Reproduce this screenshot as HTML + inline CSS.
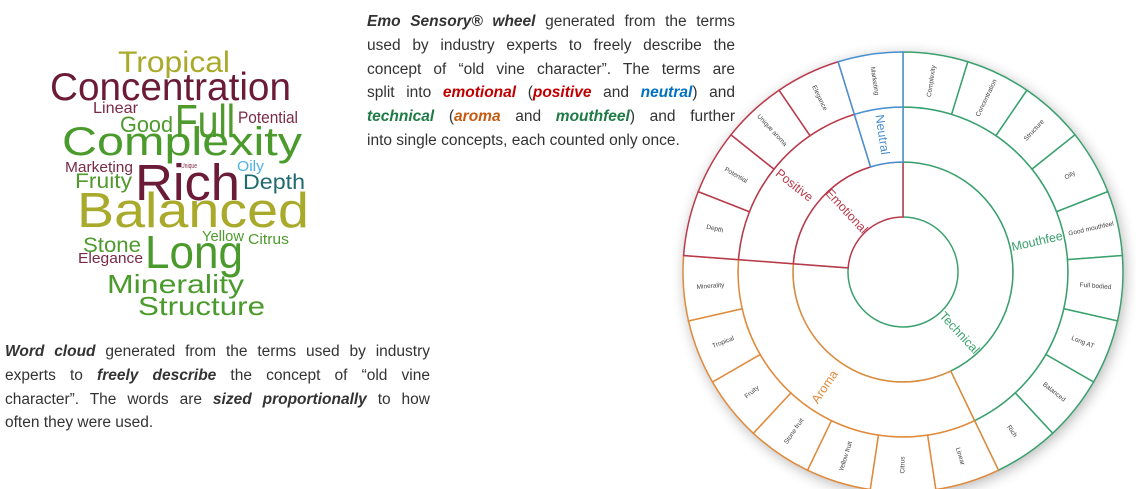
<!DOCTYPE html>
<html><head><meta charset="utf-8">
<style>
html,body{margin:0;padding:0;background:#fff;}
body{width:1136px;height:489px;position:relative;overflow:hidden;font-family:"Liberation Sans",Arial,sans-serif;}
.para{position:absolute;font-size:15.5px;line-height:23.8px;color:#333;}
.para div{text-align:justify;text-align-last:justify;white-space:nowrap;}
.para div.last{text-align-last:left;}
.bi{font-weight:bold;font-style:italic;}
svg{position:absolute;left:0;top:0;}
</style></head>
<body>
<svg width="1136" height="489">
  <defs>
    <filter id="sh" x="-20%" y="-20%" width="140%" height="140%">
      <feGaussianBlur in="SourceAlpha" stdDeviation="7"/>
      <feOffset dx="2" dy="3"/>
      <feComponentTransfer><feFuncA type="linear" slope="0.3"/></feComponentTransfer>
      <feMerge><feMergeNode/><feMergeNode in="SourceGraphic"/></feMerge>
    </filter>
  </defs>
  <g id="cloud"></g>
  <g id="wheel"></g>
</svg>

<div class="para" style="left:367px;top:10px;width:368px;">
  <div><span class="bi">Emo Sensory® wheel</span> generated from the terms</div>
  <div>used by industry experts to freely describe the</div>
  <div>concept of “old vine character”. The terms are</div>
  <div>split into <span class="bi" style="color:#c00000">emotional</span> (<span class="bi" style="color:#c00000">positive</span> and <span class="bi" style="color:#0070c0">neutral</span>) and</div>
  <div><span class="bi" style="color:#1e7b45">technical</span> (<span class="bi" style="color:#c55a11">aroma</span> and <span class="bi" style="color:#1e7b45">mouthfeel</span>) and further</div>
  <div class="last">into single concepts, each counted only once.</div>
</div>

<div class="para" style="left:5px;top:340px;width:425px;">
  <div><span class="bi">Word cloud</span> generated from the terms used by industry</div>
  <div>experts to <span class="bi">freely describe</span> the concept of “old vine</div>
  <div>character”. The words are <span class="bi">sized proportionally</span> to how</div>
  <div class="last">often they were used.</div>
</div>

<script>
const NS="http://www.w3.org/2000/svg";
// ---- word cloud data ----
const words=["Tropical","Concentration","Linear","Full","Potential","Good","Complexity","Marketing","Unique","Oily","Rich","Fruity","Depth","Balanced","Yellow","Citrus","Stone","Long","Elegance","Minerality","Structure"];
const wordSizes=[30,39,16,46,17,22,40,15,7,15,51,21,21,49,15,15,21,46,15,26,26];
const wordX=[118,50,93,175,238,120,62,65,181,237,135,75,243,77,202,248,83,145,78,107,138];
const wordY=[72,100,113,137,123,132,155,172,168,171,200,188,189,227,241,244,252,268,263,293,315];
const wordW=[112,241,45,60,60,53,240,68,16,27,105,57,62,232,42,41,58,98,65,137,127];
const wordCol=["#a9aa2b","#6b1b37","#7a2a45","#4f9a2d","#7a2a45","#4f9a2d","#4a9a2c","#7a2a45","#7a2a45","#4db3e6","#6b1b37","#4f9a2d","#1f6b6e","#a9aa2b","#4f9a2d","#4f9a2d","#4f9a2d","#4a9a2c","#7a2a45","#4a9a2c","#4a9a2c"];
const cloud=document.getElementById('cloud');
words.forEach((w,i)=>{
  const t=document.createElementNS(NS,'text');
  
  
  t.setAttribute('x',wordX[i]);t.setAttribute('y',wordY[i]);
  t.setAttribute('font-size',wordSizes[i]);
  t.setAttribute('textLength',wordW[i]);
  t.setAttribute('lengthAdjust','spacingAndGlyphs');
  t.setAttribute('fill',wordCol[i]);
  t.setAttribute('font-family','Liberation Sans, Arial, sans-serif');
  t.textContent=w;cloud.appendChild(t);
});

// ---- wheel data (clockwise from 12 o'clock) ----
const terms=["Complexity","Concentration","Structure","Oily","Good mouthfeel","Full bodied","Long AT","Balanced","Rich","Linear","Citrus","Yellow fruit","Stone fruit","Fruity","Tropical","Minerality","Depth","Potential","Unique aroma","Elegance","Marketing"];
const termCounts=[1,1,1,1,1,1,1,1,1,1,1,1,1,1,1,1,1,1,1,1,1];
const termGroup=["Mouthfeel","Mouthfeel","Mouthfeel","Mouthfeel","Mouthfeel","Mouthfeel","Mouthfeel","Mouthfeel","Mouthfeel","Aroma","Aroma","Aroma","Aroma","Aroma","Aroma","Aroma","Positive","Positive","Positive","Positive","Neutral"];
const groups=["Mouthfeel","Aroma","Positive","Neutral"];
const groupParent=["Technical","Technical","Emotional","Emotional"];
const parents=["Technical","Emotional"];
const colorOf={Technical:"#3aa16e",Mouthfeel:"#3aa16e",Emotional:"#b83a4b",Positive:"#b83a4b",Neutral:"#4a8fd0",Aroma:"#e08a3c"};
const CX=903,CY=272,R=[55,110,165,220];
const wheel=document.getElementById('wheel');
const total=termCounts.reduce((a,b)=>a+b,0);
const ang=v=>v/total*360;
function pt(r,a){const t=a*Math.PI/180;return [CX+r*Math.sin(t),CY-r*Math.cos(t)];}
function sector(r0,r1,a0,a1){
  const lg=(a1-a0)>180?1:0;
  const [x0,y0]=pt(r1,a0),[x1,y1]=pt(r1,a1),[x2,y2]=pt(r0,a1),[x3,y3]=pt(r0,a0);
  return `M${x0},${y0}A${r1},${r1} 0 ${lg} 1 ${x1},${y1}L${x2},${y2}A${r0},${r0} 0 ${lg} 0 ${x3},${y3}Z`;
}
const bg=document.createElementNS(NS,'circle');
bg.setAttribute('cx',CX);bg.setAttribute('cy',CY);bg.setAttribute('r',R[3]);
bg.setAttribute('fill','#fff');bg.setAttribute('filter','url(#sh)');


wheel.appendChild(bg);
function label(txt,r,a,size,col,name){
  const [x,y]=pt(r,a);
  const rot=a<180?a-90:a+90;
  const t=document.createElementNS(NS,'text');
  
  
  t.setAttribute('x',x);t.setAttribute('y',y);
  t.setAttribute('text-anchor','middle');t.setAttribute('dominant-baseline','central');
  t.setAttribute('font-size',size);t.setAttribute('fill',col);
  t.setAttribute('font-family','Liberation Sans, Arial, sans-serif');
  t.setAttribute('transform',`rotate(${rot} ${x} ${y})`);
  t.textContent=txt;wheel.appendChild(t);
}
function seg(r0,r1,a0,a1,col,name){
  const p=document.createElementNS(NS,'path');
  p.setAttribute('d',sector(r0,r1,a0,a1));
  p.setAttribute('fill','#fff');p.setAttribute('stroke',col);p.setAttribute('stroke-width','1.5');
  
  
  wheel.appendChild(p);
}
let acc=0;
parents.forEach(p=>{
  let v=0;terms.forEach((t,i)=>{if(groupParent[groups.indexOf(termGroup[i])]===p)v+=termCounts[i];});
  const a0=ang(acc),a1=ang(acc+v);acc+=v;
  seg(R[0],R[1],a0,a1,colorOf[p],'ring-'+p.toLowerCase());
  label(p,83,(a0+a1)/2,12.5,colorOf[p],'label-'+p.toLowerCase());
});
acc=0;
groups.forEach(g=>{
  let v=0;terms.forEach((t,i)=>{if(termGroup[i]===g)v+=termCounts[i];});
  const a0=ang(acc),a1=ang(acc+v);acc+=v;
  seg(R[1],R[2],a0,a1,colorOf[g],'ring-'+g.toLowerCase());
  label(g,139,(a0+a1)/2,12.5,colorOf[g],'label-'+g.toLowerCase());
});
acc=0;
terms.forEach((t,i)=>{
  const a0=ang(acc),a1=ang(acc+termCounts[i]);acc+=termCounts[i];
  seg(R[2],R[3],a0,a1,colorOf[termGroup[i]],'cell-'+t.toLowerCase().replace(/ /g,'-'));
  label(t,193,(a0+a1)/2,6.5,'#444','label-'+t.toLowerCase().replace(/ /g,'-'));
});
</script>
</body></html>
